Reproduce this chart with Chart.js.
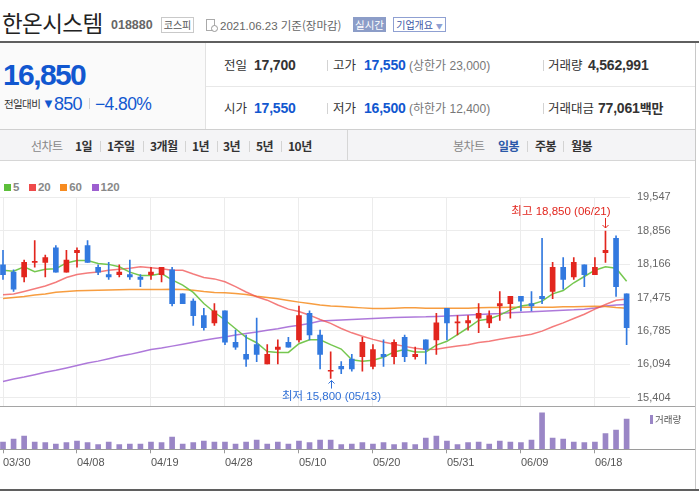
<!DOCTYPE html>
<html lang="ko">
<head>
<meta charset="utf-8">
<title>한온시스템 일봉</title>
<script src="https://cdn.jsdelivr.net/npm/chart.js@4.4.1/dist/chart.umd.min.js"></script>
<style>
  html, body { margin: 0; padding: 0; background: #fff; }
  body {
    width: 699px; height: 492px; position: relative; overflow: hidden;
    font-family: "Liberation Sans", "Noto Sans CJK KR", sans-serif; color: #333;
  }
  .abs { position: absolute; white-space: nowrap; }
  .line { position: absolute; }
  .kr { font-family: "Noto Sans CJK KR", sans-serif; }
  .lbl { font-size: 12.5px; color: #333; line-height: 16px; }
  .num { font-size: 14px; font-weight: bold; line-height: 16px; letter-spacing: -0.2px; }
  .sub { font-size: 12px; color: #777; line-height: 16px; }
  .blue { color: #1157d0; }
  .tab { font-size: 12px; font-weight: bold; line-height: 16px; color: #333; letter-spacing: -0.5px; }
  .sep { position: absolute; width: 1px; height: 11px; background: #d3d3d3; }
  .legend { position: absolute; left: 4px; top: 181px; display: flex; align-items: center;
            font-size: 11.5px; font-weight: bold; color: #888; line-height: 12px; }
  .legend span.box { display: inline-block; width: 7px; height: 7px; margin-right: 2px; }
  .legend span.txt { margin-right: 9.5px; }
</style>
</head>
<body>
<!-- header -->
<div class="abs kr" style="left:2px;top:8px;font-size:22.5px;line-height:28px;color:#222;letter-spacing:-0.6px;">한온시스템</div>
<div class="abs" style="left:111px;top:18px;font-size:12.5px;font-weight:bold;color:#666;line-height:14px;">018880</div>
<div class="abs kr" style="left:161px;top:17px;width:31px;height:14px;border:1px solid #c9c9c9;font-size:10px;line-height:14px;text-align:center;color:#555;">코스피</div>
<div class="abs" style="left:206px;top:19px;width:7px;height:10px;border:1px solid #aaa;"></div>
<div class="abs" style="left:211px;top:25px;width:5px;height:5px;border:1px solid #999;border-radius:50%;background:#fff;"></div>
<div class="abs" style="left:220px;top:17px;font-size:11.5px;color:#666;line-height:16px;">2021.06.23 <span class="kr">기준(장마감)</span></div>
<div class="abs kr" style="left:353px;top:17px;width:33px;height:15px;background:#8c9dc8;color:#fff;font-size:10.5px;line-height:15px;text-align:center;">실시간</div>
<div class="abs kr" style="left:393px;top:17px;width:51px;height:13px;border:1px solid #8fa0d2;color:#3a56a5;font-size:10px;line-height:13px;text-align:center;">기업개요 <span style="font-size:7px;color:#8fa0d2;">▼</span></div>

<div class="line" style="left:0;top:41px;width:699px;height:2px;background:#5f5f5f;"></div>

<!-- price summary -->
<div class="line" style="left:0;top:43px;width:205px;height:86px;background:#fafafa;border-right:1px solid #e2e2e2;"></div>
<div class="line" style="left:206px;top:86px;width:489px;height:1px;background:#e8e8e8;"></div>
<div class="line" style="left:0;top:129px;width:696px;height:1px;background:#d0d0d0;"></div>

<div class="abs blue" style="left:3px;top:58px;font-size:30px;font-weight:bold;line-height:34px;letter-spacing:-1.6px;">16,850</div>
<div class="abs kr" style="left:4px;top:96px;font-size:10.5px;line-height:16px;color:#333;letter-spacing:-0.6px;">전일대비</div>
<div class="abs blue" style="left:42px;top:94px;font-size:13px;line-height:20px;">▼</div>
<div class="abs blue" style="left:54px;top:93px;font-size:18px;line-height:22px;letter-spacing:-0.8px;">850</div>
<div class="sep" style="left:89px;top:98px;"></div>
<div class="abs blue" style="left:95px;top:93px;font-size:17.5px;line-height:22px;letter-spacing:-0.6px;">−4.80%</div>

<div class="abs lbl kr" style="left:224px;top:57px;">전일</div>
<div class="abs num" style="left:254px;top:57px;">17,700</div>
<div class="sep" style="left:327px;top:60px;"></div>
<div class="abs lbl kr" style="left:333px;top:57px;">고가</div>
<div class="abs num blue" style="left:364px;top:57px;">17,550</div>
<div class="abs sub" style="left:409px;top:57px;">(<span class="kr">상한가</span> 23,000)</div>
<div class="sep" style="left:543px;top:60px;"></div>
<div class="abs lbl kr" style="left:548px;top:57px;">거래량</div>
<div class="abs num" style="left:588px;top:57px;">4,562,991</div>

<div class="abs lbl kr" style="left:224px;top:100px;">시가</div>
<div class="abs num blue" style="left:254px;top:100px;">17,550</div>
<div class="sep" style="left:327px;top:103px;"></div>
<div class="abs lbl kr" style="left:333px;top:100px;">저가</div>
<div class="abs num blue" style="left:364px;top:100px;">16,500</div>
<div class="abs sub" style="left:409px;top:100px;">(<span class="kr">하한가</span> 12,400)</div>
<div class="sep" style="left:543px;top:103px;"></div>
<div class="abs lbl kr" style="left:548px;top:100px;">거래대금</div>
<div class="abs num" style="left:598px;top:100px;">77,061<span class="kr" style="font-size:13px;">백만</span></div>

<!-- period tabs -->
<div class="line" style="left:0;top:130px;width:696px;height:30px;background:#f4f4f6;"></div>
<div class="line" style="left:0;top:160px;width:696px;height:1px;background:#d6d6d6;"></div>
<div class="line" style="left:347px;top:130px;width:1px;height:30px;background:#d6d6d6;"></div>
<div class="abs tab kr" style="left:31px;top:138px;color:#888;font-weight:normal;">선차트</div>
<div class="abs tab kr" style="left:75px;top:138px;">1일</div>
<div class="sep" style="left:100px;top:141px;"></div>
<div class="abs tab kr" style="left:107px;top:138px;">1주일</div>
<div class="sep" style="left:143px;top:141px;"></div>
<div class="abs tab kr" style="left:150px;top:138px;">3개월</div>
<div class="sep" style="left:185px;top:141px;"></div>
<div class="abs tab kr" style="left:192px;top:138px;">1년</div>
<div class="sep" style="left:217px;top:141px;"></div>
<div class="abs tab kr" style="left:223px;top:138px;">3년</div>
<div class="sep" style="left:249px;top:141px;"></div>
<div class="abs tab kr" style="left:256px;top:138px;">5년</div>
<div class="sep" style="left:281px;top:141px;"></div>
<div class="abs tab kr" style="left:288px;top:138px;">10년</div>
<div class="abs tab kr" style="left:453px;top:138px;color:#888;font-weight:normal;">봉차트</div>
<div class="abs tab kr" style="left:498px;top:138px;color:#2b58a8;">일봉</div>
<div class="sep" style="left:527px;top:141px;"></div>
<div class="abs tab kr" style="left:535px;top:138px;">주봉</div>
<div class="sep" style="left:563px;top:141px;"></div>
<div class="abs tab kr" style="left:571px;top:138px;">월봉</div>

<!-- charts -->
<div class="legend" id="maLegend"></div>
<canvas id="priceChart" width="699" height="247" style="position:absolute;left:0;top:160px;"></canvas>
<div class="line" style="left:0;top:406px;width:696px;height:1px;background:#a5a5a5;"></div>
<canvas id="volChart" width="699" height="85" style="position:absolute;left:0;top:407px;"></canvas>
<div class="line" style="left:0;top:449px;width:696px;height:1px;background:#9a9a9a;"></div>
<div class="abs" style="left:650px;top:415px;width:3px;height:9px;background:#9a86c6;"></div>
<div class="abs kr" style="left:655px;top:412px;font-size:9.5px;line-height:14px;color:#555;">거래량</div>
<div class="line" style="left:695px;top:43px;width:1px;height:446px;background:#c8c8c8;"></div>
<div class="line" style="left:0;top:489px;width:699px;height:2px;background:#5f5f5f;"></div>

<script>
// trading days shown on the chart
const dates = [
  "03/30", "03/31", "04/01", "04/02", "04/05", "04/06", "04/07", "04/08", "04/09", "04/12",
  "04/13", "04/14", "04/15", "04/16", "04/19", "04/20", "04/21", "04/22", "04/23", "04/26",
  "04/27", "04/28", "04/29", "04/30", "05/03", "05/04", "05/06", "05/07", "05/10", "05/11",
  "05/12", "05/13", "05/14", "05/17", "05/18", "05/20", "05/21", "05/24", "05/25", "05/26",
  "05/27", "05/28", "05/31", "06/01", "06/02", "06/03", "06/04", "06/07", "06/08", "06/09",
  "06/10", "06/11", "06/14", "06/15", "06/16", "06/17", "06/18", "06/21", "06/22", "06/23",
];
const tickDates = ["03/30", "04/08", "04/19", "04/28", "05/10", "05/20", "05/31", "06/09", "06/18"];
const priceTicks = [15404, 16094, 16785, 17475, 18166, 18856, 19547];

const opens = [
  18150, 18000, 17900, 18200, 18200, 18500, 18000, 18400, 18550, 18100,
  17950, 17950, 17950, 17900, 17950, 17950, 18050, 17550, 17400, 17100,
  16950, 17200, 16550, 16300, 16500, 16100, 16400, 16550, 16600, 17150,
  16700, 15950, 16050, 16200, 16250, 16050, 16300, 16250, 16650, 16250,
  16600, 16600, 17250, 16950, 16950, 17050, 16950, 17300, 17350, 17500,
  17350, 17500, 17600, 18100, 17900, 18150, 17950, 18400, 18700, 17550,
];
const highs = [
  18450, 18050, 18250, 18650, 18350, 18550, 18450, 18500, 18650, 18150,
  18200, 18150, 18250, 17950, 18100, 18100, 18100, 17550, 17450, 17250,
  17350, 17200, 16800, 16700, 17050, 16500, 16600, 16650, 17300, 17200,
  16800, 16350, 16150, 16300, 16650, 16500, 16600, 16600, 16700, 16450,
  16600, 17150, 17250, 17100, 17100, 17350, 17200, 17600, 17500, 17500,
  17600, 18700, 18200, 18300, 18300, 18150, 18300, 18850, 18750, 17550,
];
const lows = [
  17850, 17600, 17800, 18100, 17900, 18000, 18000, 18100, 18200, 17950,
  17850, 17900, 17850, 17700, 17850, 17800, 17300, 17350, 16900, 16800,
  16900, 16500, 16400, 16050, 16150, 16100, 16100, 16450, 16550, 16600,
  16000, 15800, 15900, 15950, 15950, 16000, 16050, 16100, 16150, 16200,
  16100, 16300, 16600, 16700, 16800, 16750, 16850, 17000, 17050, 17200,
  17200, 17350, 17450, 17650, 17850, 17700, 17950, 18200, 17500, 16500,
];
const closes = [
  17950, 17650, 18200, 18200, 18300, 18000, 18250, 18450, 18200, 18000,
  17900, 18000, 17900, 17850, 18000, 18100, 17350, 17350, 17100, 16850,
  17200, 16550, 16450, 16200, 16300, 16300, 16450, 16450, 17100, 16700,
  16300, 15950, 16000, 16000, 16550, 16400, 16250, 16550, 16250, 16300,
  16400, 16950, 16950, 16950, 17000, 17150, 17100, 17350, 17500, 17400,
  17300, 17450, 18100, 17850, 18200, 17950, 18100, 18450, 17700, 16850,
];

// moving averages
const ma5 = [
  18040, 18020, 18110, 18010, 18060, 18070, 18190, 18240, 18240, 18180,
  18160, 18110, 18000, 17930, 17930, 17970, 17840, 17730, 17580, 17350,
  17170, 17010, 16830, 16650, 16540, 16360, 16340, 16340, 16520, 16600,
  16600, 16500, 16410, 16190, 16160, 16180, 16240, 16350, 16400, 16350,
  16350, 16490, 16570, 16710, 16850, 17000, 17030, 17110, 17220, 17300,
  17330, 17400, 17550, 17620, 17780, 17910, 18040, 18110, 18080, 17810,
];
const ma20 = [
  17530, 17550, 17600, 17655, 17715, 17790, 17890, 17950, 17980, 18005,
  18040, 18060, 18080, 18110, 18090, 18070, 18040, 18040, 17960, 17890,
  17860, 17800, 17700, 17590, 17490, 17420, 17320, 17235, 17185, 17110,
  17020, 16940, 16835, 16745, 16675, 16610, 16555, 16510, 16465, 16425,
  16400, 16405, 16440, 16475, 16500, 16545, 16570, 16610, 16650, 16680,
  16715, 16780, 16870, 16950, 17040, 17130, 17235, 17330, 17420, 17445,
];
const ma60 = [
  17455, 17475, 17495, 17525, 17550, 17585, 17600, 17615, 17620, 17625,
  17628, 17634, 17640, 17641, 17641, 17642, 17645, 17640, 17627, 17600,
  17580, 17572, 17558, 17537, 17503, 17475, 17448, 17413, 17380, 17350,
  17320, 17302, 17289, 17275, 17261, 17247, 17247, 17254, 17261, 17261,
  17254, 17254, 17254, 17254, 17254, 17261, 17268, 17268, 17275, 17275,
  17275, 17275, 17275, 17282, 17282, 17289, 17296, 17289, 17268, 17254,
];
const ma120 = [
  15740, 15790, 15830, 15880, 15930, 15970, 16020, 16070, 16120, 16160,
  16210, 16260, 16300, 16350, 16400, 16430, 16470, 16510, 16550, 16590,
  16630, 16660, 16700, 16730, 16760, 16800, 16830, 16870, 16900, 16940,
  16990, 17000, 17010, 17020, 17030, 17040, 17050, 17060, 17065, 17070,
  17075, 17085, 17095, 17105, 17115, 17125, 17135, 17145, 17160, 17170,
  17180, 17190, 17200, 17210, 17220, 17235, 17260, 17300, 17320, 17330,
];

const volumes = [
  1100000, 1550000, 2000000, 1100000, 1000000, 800000, 1000000, 1250000, 1000000, 700000,
  1100000, 700000, 800000, 800000, 1100000, 1000000, 1850000, 800000, 1000000, 1250000,
  1100000, 1100000, 800000, 1100000, 1400000, 800000, 1100000, 800000, 1250000, 1000000,
  1400000, 1400000, 700000, 800000, 1000000, 800000, 1000000, 700000, 1000000, 700000,
  1700000, 2000000, 1250000, 700000, 1000000, 1100000, 800000, 1250000, 1100000, 1000000,
  1400000, 5500000, 1700000, 1550000, 1100000, 1000000, 1100000, 2350000, 2900000, 4562991,
];

const maLabels = ["5", "20", "60", "120"];
const maValues = [ma5, ma20, ma60, ma120];
const maColors = ["rgba(110,196,70,0.95)", "rgba(240,80,80,0.75)", "rgba(246,140,30,0.85)", "rgba(160,98,212,0.85)"];
const maLegendColors = ["#5cbf3a", "#ef4a4a", "#f78b1f", "#9d5fd0"];

const upColor = "#e2261e";
const downColor = "#3279df";
const fontFamily = '"Liberation Sans", "Noto Sans CJK KR", sans-serif';

const idx = dates.map((d, i) => i);
const tickIdx = tickDates.map((d) => dates.indexOf(d));
const candleColors = closes.map((c, i) => (c >= opens[i] ? upColor : downColor));
const fmt = (v) => v.toLocaleString("en-US");

// x range shared by both panels (index units)
const xMin = -0.284;
const xMax = 59.32;

// legend for the moving averages
const legendEl = document.getElementById("maLegend");
maLabels.forEach((label, i) => {
  legendEl.innerHTML += `<span class="box" style="background:${maLegendColors[i]}"></span><span class="txt">${label}</span>`;
});

// high / low markers
const hiLoPlugin = {
  id: "hiLo",
  afterDatasetsDraw(chart) {
    const { ctx, scales } = chart;
    const iHi = highs.indexOf(Math.max(...highs));
    const iLo = lows.indexOf(Math.min(...lows));

    ctx.save();
    ctx.font = "11.5px " + fontFamily;
    ctx.lineWidth = 1;

    // highest
    let x = Math.round(scales.x.getPixelForValue(iHi)) + 0.5;
    let y = scales.y.getPixelForValue(highs[iHi]);
    ctx.strokeStyle = upColor;
    ctx.fillStyle = upColor;
    ctx.beginPath();
    ctx.moveTo(x, y - 13);
    ctx.lineTo(x, y - 3);
    ctx.moveTo(x - 3, y - 6);
    ctx.lineTo(x, y - 3);
    ctx.lineTo(x + 3, y - 6);
    ctx.stroke();
    ctx.textAlign = "right";
    ctx.textBaseline = "middle";
    ctx.fillText(`최고 ${fmt(highs[iHi])} (${dates[iHi]})`, x + 5, y - 19);

    // lowest
    x = Math.round(scales.x.getPixelForValue(iLo)) + 0.5;
    y = scales.y.getPixelForValue(lows[iLo]);
    ctx.strokeStyle = "#2f6fd6";
    ctx.fillStyle = "#2f6fd6";
    ctx.beginPath();
    ctx.moveTo(x, y + 2);
    ctx.lineTo(x, y + 10);
    ctx.moveTo(x - 3, y + 5);
    ctx.lineTo(x, y + 2);
    ctx.lineTo(x + 3, y + 5);
    ctx.stroke();
    ctx.textAlign = "center";
    ctx.fillText(`최저 ${fmt(lows[iLo])} (${dates[iLo]})`, x, y + 18);
    ctx.restore();
  },
};

// price panel: candles + moving averages
new Chart(document.getElementById("priceChart"), {
  type: "bar",
  data: {
    datasets: [
      {
        label: "body",
        data: idx.map((i) => ({ x: i, y: [opens[i], closes[i]] })),
        backgroundColor: candleColors,
        barThickness: 5,
        minBarLength: 1,
        grouped: false,
        order: 0,
      },
      {
        label: "wick",
        data: idx.map((i) => ({ x: i, y: [lows[i], highs[i]] })),
        backgroundColor: candleColors,
        barThickness: 1,
        grouped: false,
        order: 0,
      },
      ...maLabels.map((label, k) => ({
        type: "line",
        label: label,
        data: idx.map((i) => ({ x: i, y: maValues[k][i] })),
        borderColor: maColors[k],
        borderWidth: 1.5,
        pointRadius: 0,
        tension: 0,
        order: 1,
      })),
    ],
  },
  options: {
    responsive: false,
    animation: false,
    layout: { padding: { top: 37.3, bottom: 0.5, left: 0, right: 0 } },
    plugins: { legend: { display: false }, tooltip: { enabled: false } },
    scales: {
      x: {
        type: "linear",
        offset: false,
        min: xMin,
        max: xMax,
        afterBuildTicks: (axis) => {
          axis.ticks = tickIdx.map((v) => ({ value: v }));
        },
        ticks: { display: false },
        grid: { color: "#ececec", drawTicks: false, offset: false },
        border: { display: false },
        afterFit: (axis) => {
          axis.height = 0;
        },
      },
      y: {
        position: "right",
        min: 15222,
        max: 19547,
        afterBuildTicks: (axis) => {
          axis.ticks = priceTicks.map((v) => ({ value: v }));
        },
        ticks: {
          padding: 7,
          color: "#666",
          font: { size: 11, family: fontFamily },
          callback: (v) => fmt(v),
        },
        grid: { color: "#ececec", drawTicks: false },
        border: { display: false },
        afterFit: (axis) => {
          // keep the label overhang from shrinking the plot area
          axis.width = 69;
          axis.paddingTop = 0;
          axis.paddingBottom = 0;
        },
      },
    },
  },
  plugins: [hiLoPlugin],
});

// volume panel
new Chart(document.getElementById("volChart"), {
  type: "bar",
  data: {
    datasets: [
      {
        label: "거래량",
        data: idx.map((i) => ({ x: i, y: volumes[i] })),
        backgroundColor: "#9a86c6",
        barThickness: 5,
      },
    ],
  },
  options: {
    responsive: false,
    animation: false,
    layout: { padding: 0 },
    plugins: { legend: { display: false }, tooltip: { enabled: false } },
    scales: {
      x: {
        type: "linear",
        offset: false,
        min: xMin,
        max: xMax,
        afterBuildTicks: (axis) => {
          axis.ticks = tickIdx.map((v) => ({ value: v }));
        },
        ticks: {
          align: "start",
          padding: 3,
          color: "#555",
          font: { size: 11, family: fontFamily },
          maxRotation: 0,
          autoSkip: false,
          callback: (v) => dates[v],
        },
        grid: { drawOnChartArea: false, tickLength: 4, color: "#999", offset: false },
        border: { display: false },
        afterFit: (axis) => {
          axis.height = 42.7;
          axis.paddingLeft = 0;
          axis.paddingRight = 0;
        },
      },
      y: {
        position: "right",
        min: 0,
        max: 6370000,
        ticks: { display: false },
        grid: { display: false },
        border: { display: false },
        afterFit: (axis) => {
          axis.width = 69;
        },
      },
    },
  },
});
</script>
</body>
</html>
